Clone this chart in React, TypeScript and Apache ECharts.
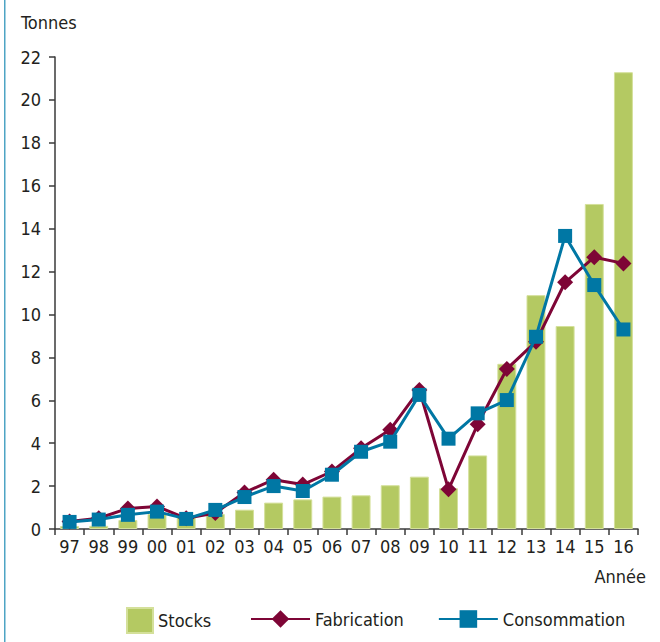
import React, { useEffect, useRef } from "react";
import * as echarts from "echarts";

const categories = ["97","98","99","00","01","02","03","04","05","06","07","08","09","10","11","12","13","14","15","16"];
const stocks = [0.14,0.15,0.42,0.7,0.62,0.7,0.9,1.23,1.38,1.51,1.57,2.04,2.44,1.9,3.43,7.7,10.9,9.46,15.15,21.29];
const fabrication = [0.35,0.5,0.96,1.05,0.5,0.75,1.7,2.3,2.07,2.68,3.76,4.63,6.48,1.85,4.88,7.46,8.73,11.5,12.67,12.38];
const consommation = [0.33,0.44,0.66,0.81,0.47,0.89,1.49,2.0,1.77,2.53,3.6,4.07,6.25,4.21,5.39,6.01,8.96,13.66,11.37,9.3];

const FONT = "'Liberation Sans Narrow', 'DejaVu Sans Condensed', 'Roboto', sans-serif";
const TXT = "#231f20";

export default function App() {
  const ref = useRef<HTMLDivElement>(null);
  useEffect(() => {
    const chart = echarts.init(ref.current!, null, { renderer: "svg" });
    chart.setOption({
      animation: false,
      textStyle: { fontFamily: FONT, color: TXT },
      grid: { left: 55, right: 22, top: 57, bottom: 113, containLabel: false },
      graphic: [
        { type: "rect", shape: { x: 4, y: 0, width: 1.5, height: 642 }, style: { fill: "#4ea4c4" } },
        { type: "text", left: 21, top: 13, style: { text: "Tonnes", font: `18px ${FONT}`, fill: TXT } },
        { type: "text", right: 14, top: 567, style: { text: "Année", font: `18px ${FONT}`, fill: TXT } },
      ],
      legend: [
        {
          data: [{ name: "Stocks", icon: "rect" }],
          left: 126, top: 607, itemWidth: 26, itemHeight: 25, itemGap: 0,
          textStyle: { fontFamily: FONT, fontSize: 18, color: TXT },
          padding: 0,
        },
        {
          data: ["Fabrication", "Consommation"],
          left: 250, top: 610, itemWidth: 59, itemHeight: 22, itemGap: 34,
          textStyle: { fontFamily: FONT, fontSize: 18, color: TXT },
          padding: 0,
        },
      ],
      xAxis: {
        type: "category",
        data: categories,
        boundaryGap: true,
        axisLine: { lineStyle: { color: "#3a3a3a", width: 1.5 } },
        axisTick: { show: true, alignWithLabel: false, length: 6, lineStyle: { color: "#3a3a3a", width: 1.5 } },
        axisLabel: { fontFamily: FONT, fontSize: 18, color: TXT, margin: 8, interval: 0 },
      },
      yAxis: {
        type: "value",
        min: 0, max: 22, interval: 2,
        splitLine: { show: false },
        axisLine: { show: true, lineStyle: { color: "#3a3a3a", width: 1.5 } },
        axisTick: { show: true, length: 6, lineStyle: { color: "#3a3a3a", width: 1.5 } },
        axisLabel: { fontFamily: FONT, fontSize: 18, color: TXT, margin: 14 },
      },
      series: [
        {
          name: "Stocks", type: "bar", data: stocks, barWidth: "65%",
          itemStyle: { color: "#b4c962", borderColor: "#d4e09a", borderWidth: 1 },
          z: 1,
        },
        {
          name: "Fabrication", type: "line", data: fabrication,
          symbol: "diamond", symbolSize: 16,
          lineStyle: { color: "#7e0536", width: 3 },
          itemStyle: { color: "#7e0536" },
          z: 2,
        },
        {
          name: "Consommation", type: "line", data: consommation,
          symbol: "rect", symbolSize: 14,
          lineStyle: { color: "#0077a4", width: 3 },
          itemStyle: { color: "#0077a4" },
          z: 3,
        },
      ],
    });
    return () => chart.dispose();
  }, []);
  return <div ref={ref} style={{ width: 660, height: 642, position: "absolute", left: 0, top: 0 }} />;
}
